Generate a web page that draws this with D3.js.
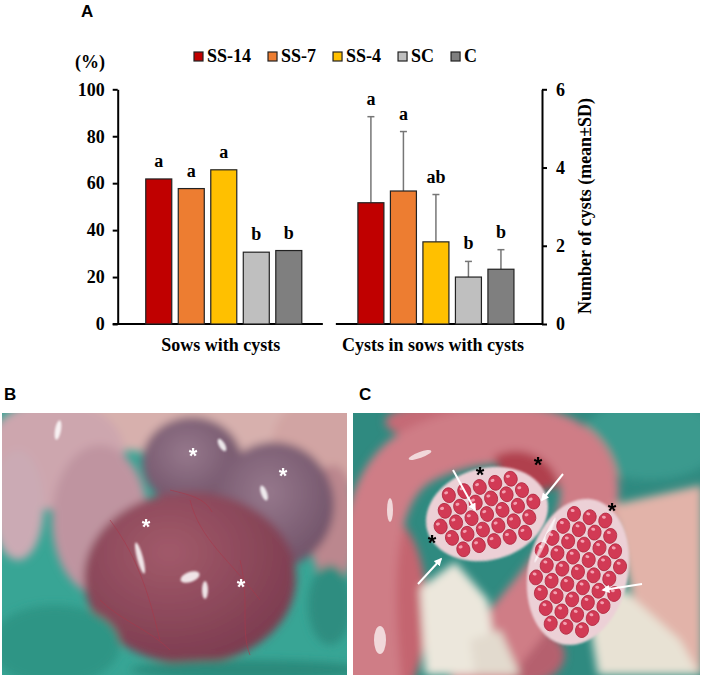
<!DOCTYPE html>
<html><head><meta charset="utf-8">
<script src="https://cdn.jsdelivr.net/npm/d3@7"></script>
<style>body{margin:0;background:#fff}svg{display:block}</style>
</head><body>
<svg id="chart" width="702" height="675"></svg>
<script>
// ---------- data ----------
const groups = ["Sows with cysts", "Cysts in sows with cysts"];
const series = ["SS-14", "SS-7", "SS-4", "SC", "C"];
const colors = ["#C00000", "#ED7D31", "#FFC000", "#BFBFBF", "#7F7F7F"];
const pctSows = [61.8, 57.7, 65.7, 30.6, 31.3];
const cystMean = [3.10, 3.40, 2.10, 1.20, 1.40];
const cystSD = [2.20, 1.52, 1.21, 0.40, 0.50];
const lettersSows = ["a", "a", "a", "b", "b"];
const lettersCysts = ["a", "a", "ab", "b", "b"];
const leftTicks = [0, 20, 40, 60, 80, 100];
const rightTicks = [0, 2, 4, 6];

const SERIF = "'Liberation Serif','Times New Roman',serif";
const SANS = "'Liberation Sans',Arial,sans-serif";
const svg = d3.select("#chart");

// ---------- scales ----------
const x0 = d3.scaleBand().domain(groups).range([117.7, 542]).paddingInner(0).paddingOuter(0);
const x1 = d3.scaleBand().domain(series).range([0, x0.bandwidth()]).paddingInner(0.2).paddingOuter(0.863);
const yL = d3.scaleLinear().domain([0, 100]).range([324, 89.3]);
const yR = d3.scaleLinear().domain([0, 6]).range([324, 89.3]);
const col = d3.scaleOrdinal().domain(series).range(colors);

// ---------- chart ----------
const g = svg.append("g");

const axL = g.append("g").attr("transform", `translate(${x0.range()[0]},0)`)
  .call(d3.axisLeft(yL).tickValues(leftTicks).tickFormat(d3.format("d")).tickSize(5).tickSizeOuter(0).tickPadding(8));
const axR = g.append("g").attr("transform", `translate(${x0.range()[1]},0)`)
  .call(d3.axisRight(yR).tickValues(rightTicks).tickFormat(d3.format("d")).tickSize(5).tickSizeOuter(0).tickPadding(9));
[axL, axR].forEach(a => {
  a.selectAll("path,line").attr("stroke", "#000").attr("stroke-width", 2);
  a.selectAll("text").attr("font-family", SERIF).attr("font-weight", "bold")
    .attr("font-size", 18).attr("fill", "#000");
});

g.append("line").attr("x1", x0(groups[0]) - 5).attr("x2", x0(groups[0]) + x0.bandwidth() - 7)
  .attr("y1", yL(0)).attr("y2", yL(0)).attr("stroke", "#000").attr("stroke-width", 2);
g.append("line").attr("x1", x0(groups[1]) + 6).attr("x2", x0(groups[1]) + x0.bandwidth())
  .attr("y1", yR(0)).attr("y2", yR(0)).attr("stroke", "#000").attr("stroke-width", 2);

const b1 = series.map((s, i) => ({s, v: pctSows[i], l: lettersSows[i]}));
const gx1 = g.append("g").attr("transform", `translate(${x0(groups[0])},0)`);
gx1.selectAll("rect").data(b1).join("rect")
  .attr("x", d => x1(d.s)).attr("width", x1.bandwidth())
  .attr("y", d => yL(d.v)).attr("height", d => yL(0) - yL(d.v))
  .attr("fill", d => col(d.s)).attr("stroke", "#222").attr("stroke-width", 1.2);
gx1.selectAll("text").data(b1).join("text")
  .attr("x", d => x1(d.s) + x1.bandwidth() / 2).attr("y", d => yL(d.v) - 12)
  .attr("text-anchor", "middle").attr("font-family", SERIF).attr("font-weight", "bold")
  .attr("font-size", 18).text(d => d.l);

const b2 = series.map((s, i) => ({s, v: cystMean[i], sd: cystSD[i], l: lettersCysts[i]}));
const gx2 = g.append("g").attr("transform", `translate(${x0(groups[1])},0)`);
gx2.selectAll("line.err").data(b2).join("line").attr("class", "err")
  .attr("x1", d => x1(d.s) + x1.bandwidth() / 2).attr("x2", d => x1(d.s) + x1.bandwidth() / 2)
  .attr("y1", d => yR(d.v)).attr("y2", d => yR(d.v + d.sd))
  .attr("stroke", "#767676").attr("stroke-width", 1.5);
gx2.selectAll("line.cap").data(b2).join("line").attr("class", "cap")
  .attr("x1", d => x1(d.s) + x1.bandwidth() / 2 - 3.5).attr("x2", d => x1(d.s) + x1.bandwidth() / 2 + 3.5)
  .attr("y1", d => yR(d.v + d.sd)).attr("y2", d => yR(d.v + d.sd))
  .attr("stroke", "#767676").attr("stroke-width", 1.5);
gx2.selectAll("rect").data(b2).join("rect")
  .attr("x", d => x1(d.s)).attr("width", x1.bandwidth())
  .attr("y", d => yR(d.v)).attr("height", d => yR(0) - yR(d.v))
  .attr("fill", d => col(d.s)).attr("stroke", "#222").attr("stroke-width", 1.2);
gx2.selectAll("text").data(b2).join("text")
  .attr("x", d => x1(d.s) + x1.bandwidth() / 2).attr("y", d => yR(d.v + d.sd) - 12)
  .attr("text-anchor", "middle").attr("font-family", SERIF).attr("font-weight", "bold")
  .attr("font-size", 18).text(d => d.l);

groups.forEach(gr => {
  g.append("text").attr("x", x0(gr) + x0.bandwidth() / 2 - 3).attr("y", 351)
    .attr("text-anchor", "middle").attr("font-family", SERIF).attr("font-weight", "bold")
    .attr("font-size", 18).text(gr);
});

g.append("text").attr("x", 75).attr("y", 68).attr("font-family", SERIF).attr("font-weight", "bold")
  .attr("font-size", 18).text("(%)");
g.append("text").attr("transform", "translate(591,206) rotate(-90)").attr("text-anchor", "middle")
  .attr("font-family", SERIF).attr("font-weight", "bold").attr("font-size", 18)
  .text("Number of cysts (mean±SD)");

let lx = 194;
series.forEach((s, i) => {
  const it = g.append("g");
  it.append("rect").attr("x", lx).attr("y", 52).attr("width", 9).attr("height", 9)
    .attr("fill", col(s)).attr("stroke", "#222").attr("stroke-width", 1.2);
  const t = it.append("text").attr("x", lx + 13).attr("y", 62).attr("font-family", SERIF)
    .attr("font-weight", "bold").attr("font-size", 18).text(s);
  lx += 13 + t.node().getComputedTextLength() + 17;
});

[["A", 81, 17], ["B", 4, 400], ["C", 359, 400]].forEach(([t, x, y]) => {
  svg.append("text").attr("x", x).attr("y", y).attr("font-family", SANS).attr("font-weight", "bold")
    .attr("font-size", 17).text(t);
});

// ---------- photo approximations ----------
const defs = svg.append("defs");
defs.append("filter").attr("id", "blur").attr("x", "-20%").attr("y", "-20%").attr("width", "140%").attr("height", "140%")
  .append("feGaussianBlur").attr("stdDeviation", 4);
defs.append("filter").attr("id", "blur1").append("feGaussianBlur").attr("stdDeviation", 1);
defs.append("clipPath").attr("id", "clipB").append("rect").attr("x", 2).attr("y", 413).attr("width", 345).attr("height", 262);
defs.append("clipPath").attr("id", "clipC").append("rect").attr("x", 353).attr("y", 413).attr("width", 347).attr("height", 262);
const mk = defs.append("marker").attr("id", "arrow").attr("viewBox", "0 0 10 10").attr("refX", 8).attr("refY", 5)
  .attr("markerWidth", 4).attr("markerHeight", 4).attr("orient", "auto");
mk.append("path").attr("d", "M0,0L10,5L0,10z").attr("fill", "#fff");
const rg = defs.append("radialGradient").attr("id", "massGrad").attr("cx", "40%").attr("cy", "35%").attr("r", "70%");
rg.append("stop").attr("offset", "0%").attr("stop-color", "#a25a6a");
rg.append("stop").attr("offset", "100%").attr("stop-color", "#7a3a4e");
const rg2 = defs.append("radialGradient").attr("id", "lobeGrad").attr("cx", "45%").attr("cy", "40%").attr("r", "65%");
rg2.append("stop").attr("offset", "0%").attr("stop-color", "#96788c");
rg2.append("stop").attr("offset", "100%").attr("stop-color", "#6e5066");

function blobs(sel, list) {
  sel.selectAll(null).data(list).join("ellipse")
    .attr("cx", d => d[0]).attr("cy", d => d[1]).attr("rx", d => d[2]).attr("ry", d => d[3])
    .attr("fill", d => d[4]).attr("transform", d => d[5] ? `rotate(${d[5]},${d[0]},${d[1]})` : null);
}

// Photo B
const pB = svg.append("g").attr("clip-path", "url(#clipB)");
pB.append("rect").attr("x", 2).attr("y", 413).attr("width", 345).attr("height", 262).attr("fill", "#38a595");
const bB = pB.append("g").attr("filter", "url(#blur)");
blobs(bB, [
  [210, 415, 175, 40, "#d7b0ad"], [322, 445, 50, 50, "#d1a4a3"],
  [55, 455, 70, 55, "#cda6ae"], [100, 520, 48, 75, "#bf94a0"], [18, 505, 26, 55, "#cbaab4"],
  [333, 525, 24, 60, "#bb878e"], [330, 605, 22, 40, "#2f8d80"]
]);
bB.append("ellipse").attr("cx", 192).attr("cy", 462).attr("rx", 50).attr("ry", 45).attr("fill", "url(#lobeGrad)");
bB.append("ellipse").attr("cx", 274).attr("cy", 505).attr("rx", 60).attr("ry", 63).attr("fill", "url(#lobeGrad)");
bB.append("ellipse").attr("cx", 190).attr("cy", 578).attr("rx", 106).attr("ry", 86).attr("fill", "url(#massGrad)");
blobs(bB, [[55, 645, 65, 40, "#2f9585"], [250, 670, 120, 10, "#2a8a7c"]]);
const vB = pB.append("g").attr("fill", "none").attr("stroke", "#a8384a").attr("stroke-width", 1).attr("opacity", 0.6);
["M110,520 C140,560 150,600 160,640", "M190,500 C200,540 230,560 260,600", "M240,560 C250,600 240,630 250,655",
 "M100,600 C120,620 150,630 170,650", "M170,490 C190,495 205,498 212,512"].forEach(p => vB.append("path").attr("d", p));
const hB = pB.append("g").attr("fill", "#fff").attr("opacity", 0.85).attr("filter", "url(#blur1)");
blobs(hB, [[140, 558, 3, 16, "#fff", -15], [190, 577, 10, 5, "#fff", -20], [264, 493, 3, 8, "#fff", -20],
  [58, 430, 3, 10, "#fff", 10], [205, 590, 3, 9, "#fff"], [222, 445, 3, 7, "#fff", -30]]);
[[193, 463], [283, 483], [146, 534], [241, 594]].forEach(([x, y]) => {
  pB.append("text").attr("x", x).attr("y", y).attr("text-anchor", "middle").attr("font-family", SANS)
    .attr("font-weight", "bold").attr("font-size", 22).attr("fill", "#fff").text("*");
});

// Photo C
const pC = svg.append("g").attr("clip-path", "url(#clipC)");
pC.append("rect").attr("x", 353).attr("y", 413).attr("width", 347).attr("height", 262).attr("fill", "#2f8a80");
const bC = pC.append("g").attr("filter", "url(#blur)");
blobs(bC, [[650, 440, 70, 40, "#3a9a8e"], [440, 422, 55, 18, "#c56a76"], [385, 610, 42, 95, "#c4656f"],
  [520, 655, 45, 30, "#b5606e"]]);
bC.append("path").attr("d", "M372,675 C360,560 370,480 420,455 C470,430 540,425 575,455 C600,480 590,520 565,560 C540,600 505,630 480,675")
  .attr("fill", "none").attr("stroke", "#cf7d86").attr("stroke-width", 58).attr("stroke-linecap", "round");
bC.append("path").attr("d", "M500,470 C520,460 540,470 545,490").attr("fill", "none").attr("stroke", "#b0404e").attr("stroke-width", 30);
bC.append("path").attr("d", "M612,505 L702,485 L702,675 L650,675 Z").attr("fill", "#e2b3a9");
bC.append("path").attr("d", "M420,588 L455,562 L488,600 L498,675 L425,675 Z").attr("fill", "#ece7dc");
bC.append("path").attr("d", "M588,612 L622,588 L680,640 L700,675 L598,675 Z").attr("fill", "#e8e2d4");
bC.append("path").attr("d", "M470,640 L500,630 L520,675 L475,675 Z").attr("fill", "#e2dace");
function cluster(cx, cy, rx, ry, rot) {
  const cg = pC.append("g").attr("transform", `rotate(${rot},${cx},${cy})`);
  cg.append("ellipse").attr("cx", cx).attr("cy", cy).attr("rx", rx).attr("ry", ry).attr("fill", "#ecd0d6").attr("filter", "url(#blur1)");
  const pts = [];
  for (let j = -6; j <= 6; j++) for (let i = -6; i <= 6; i++) {
    const px = cx + i * 16 + (j % 2 ? 8 : 0), py = cy + j * 14;
    const q = ((px - cx) / (rx - 6)) ** 2 + ((py - cy) / (ry - 6)) ** 2;
    if (q <= 1) pts.push([px, py]);
  }
  cg.selectAll(null).data(pts).join("ellipse").attr("cx", d => d[0]).attr("cy", d => d[1])
    .attr("rx", 6.5).attr("ry", 7.5).attr("fill", "#d23a55").attr("stroke", "#b02840").attr("stroke-width", 0.8);
  cg.selectAll(null).data(pts).join("ellipse").attr("cx", d => d[0] - 2).attr("cy", d => d[1] - 3)
    .attr("rx", 2).attr("ry", 1.5).attr("fill", "#f3a0b0");
}
cluster(487, 514, 62, 46, -15);
cluster(578, 572, 50, 74, 12);
const hC = pC.append("g").attr("fill", "#fff").attr("opacity", 0.7);
blobs(hC, [[420, 455, 12, 3, "#fff", -20], [390, 510, 3, 12, "#fff"], [380, 640, 6, 14, "#fff"], [545, 540, 2, 25, "#fff", 25]]);
[[480, 482], [538, 472], [432, 550], [612, 518]].forEach(([x, y]) => {
  pC.append("text").attr("x", x).attr("y", y).attr("text-anchor", "middle").attr("font-family", SANS)
    .attr("font-weight", "bold").attr("font-size", 22).attr("fill", "#000").text("*");
});
[[453, 470, 475, 510], [563, 474, 542, 500], [418, 584, 441, 559], [642, 584, 603, 590]].forEach(([a, b, c, d]) => {
  pC.append("line").attr("x1", a).attr("y1", b).attr("x2", c).attr("y2", d).attr("stroke", "#fff")
    .attr("stroke-width", 2).attr("marker-end", "url(#arrow)");
});
</script>
</body></html>
